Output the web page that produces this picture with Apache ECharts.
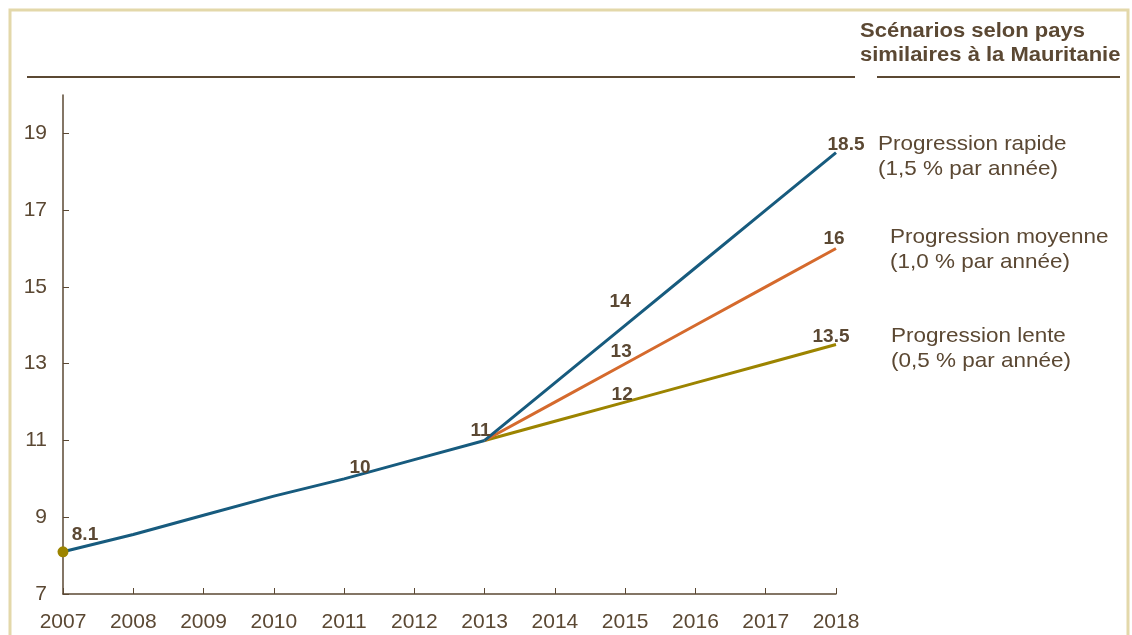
<!DOCTYPE html>
<html>
<head>
<meta charset="utf-8">
<script src="https://cdn.jsdelivr.net/npm/echarts@6/dist/echarts.min.js"></script>
<style>
  html, body { margin: 0; padding: 0; background: #fff; }
  #chart { width: 1132px; height: 635px; }
</style>
</head>
<body>
<div id="chart"></div>
<script>
// données
const years = ["2007", "2008", "2009", "2010", "2011", "2012", "2013", "2014", "2015", "2016", "2017", "2018"];
const base = [8.1, 8.55, 9.05, 9.55, 10.0, 10.5, 11, null, null, null, null, null];
const rapide = [null, null, null, null, null, null, 11, 12.5, 14, 15.5, 17, 18.5];
const moyenne = [null, null, null, null, null, null, 11, 12, 13, 14, 15, 16];
const lente = [null, null, null, null, null, null, 11, 11.5, 12, 12.5, 13, 13.5];
const yTicks = [7, 9, 11, 13, 15, 17, 19];

const brown = "#5b4833";
const blue = "#175b7e";
const orange = "#d56a2d";
const olive = "#9c8400";

// étiquettes de valeur : index -> décalage
function withLabels(data, labels) {
  return data.map((v, i) => {
    if (labels[i] === undefined) return v;
    return {
      value: v,
      label: { show: true, position: "top", distance: 2, offset: labels[i] }
    };
  });
}

const labelStyle = {
  color: brown,
  fontFamily: "Liberation Sans",
  fontWeight: "bold",
  fontSize: 19
};

const chart = echarts.init(document.getElementById("chart"));

const lineSeries = (name, data, color, extra) => Object.assign({
  name: name,
  type: "line",
  data: data,
  symbol: "circle",
  symbolSize: 0,
  showSymbol: true,
  lineStyle: { color: color, width: 3 },
  itemStyle: { color: color },
  label: labelStyle,
  emphasis: { disabled: true }
}, extra || {});

const options = {
  animation: false,
  grid: { left: 63, right: 296, top: 95, bottom: 41 },
  xAxis: {
    type: "category",
    data: years,
    boundaryGap: false,
    axisLine: { lineStyle: { color: brown, width: 1.5 } },
    axisTick: { inside: true, length: 6, lineStyle: { color: brown } },
    axisLabel: { color: brown, fontFamily: "Liberation Sans", fontSize: 21, margin: 18 },
    splitLine: { show: false }
  },
  yAxis: {
    type: "value",
    min: 7,
    max: 20,
    axisLine: { show: true, lineStyle: { color: brown, width: 1.5 } },
    axisTick: { show: true, inside: true, length: 6, customValues: yTicks, lineStyle: { color: brown } },
    axisLabel: { color: brown, fontFamily: "Liberation Sans", fontSize: 21, margin: 16, customValues: yTicks },
    splitLine: { show: false }
  },
  series: [
    lineSeries("Progression lente", withLabels(lente, { 8: [-3, 4], 11: [-5, 4] }), olive),
    lineSeries("Progression moyenne", withLabels(moyenne, { 8: [-4, 0], 11: [-2, 2] }), orange),
    lineSeries("Progression rapide", withLabels(rapide, { 8: [-5, -12], 11: [10, 4] }), blue),
    lineSeries("Base", withLabels(base, { 0: [22, 0], 4: [16, 0], 6: [-4, 2] }).map((d, i) => {
      if (i !== 0) return d;
      return Object.assign({}, d, { symbolSize: 11, itemStyle: { color: olive } });
    }), blue, { z: 5 })
  ],
  graphic: [
    // cadre beige
    { type: "rect", shape: { x: 10, y: 10, width: 1118, height: 640 }, style: { fill: "none", stroke: "#e3d8aa", lineWidth: 3 } },
    // lignes du titre
    { type: "line", shape: { x1: 27, y1: 77, x2: 855, y2: 77 }, style: { stroke: brown, lineWidth: 2 } },
    { type: "line", shape: { x1: 877, y1: 77, x2: 1120, y2: 77 }, style: { stroke: brown, lineWidth: 2 } },
    {
      type: "text", x: 860, y: 19, scaleX: 1.1,
      style: {
        text: "Scénarios selon pays\nsimilaires à la Mauritanie",
        fill: brown, font: "bold 20px 'Liberation Sans'", lineHeight: 24
      }
    },
    {
      type: "text", x: 878, y: 132, scaleX: 1.07,
      style: { text: "Progression rapide\n(1,5 % par année)", fill: brown, font: "21px 'Liberation Sans'", lineHeight: 25 }
    },
    {
      type: "text", x: 890, y: 225, scaleX: 1.07,
      style: { text: "Progression moyenne\n(1,0 % par année)", fill: brown, font: "21px 'Liberation Sans'", lineHeight: 25 }
    },
    {
      type: "text", x: 891, y: 324, scaleX: 1.07,
      style: { text: "Progression lente\n(0,5 % par année)", fill: brown, font: "21px 'Liberation Sans'", lineHeight: 25 }
    }
  ]
};

chart.setOption(options);
window.addEventListener("resize", () => chart.resize());
</script>
</body>
</html>
